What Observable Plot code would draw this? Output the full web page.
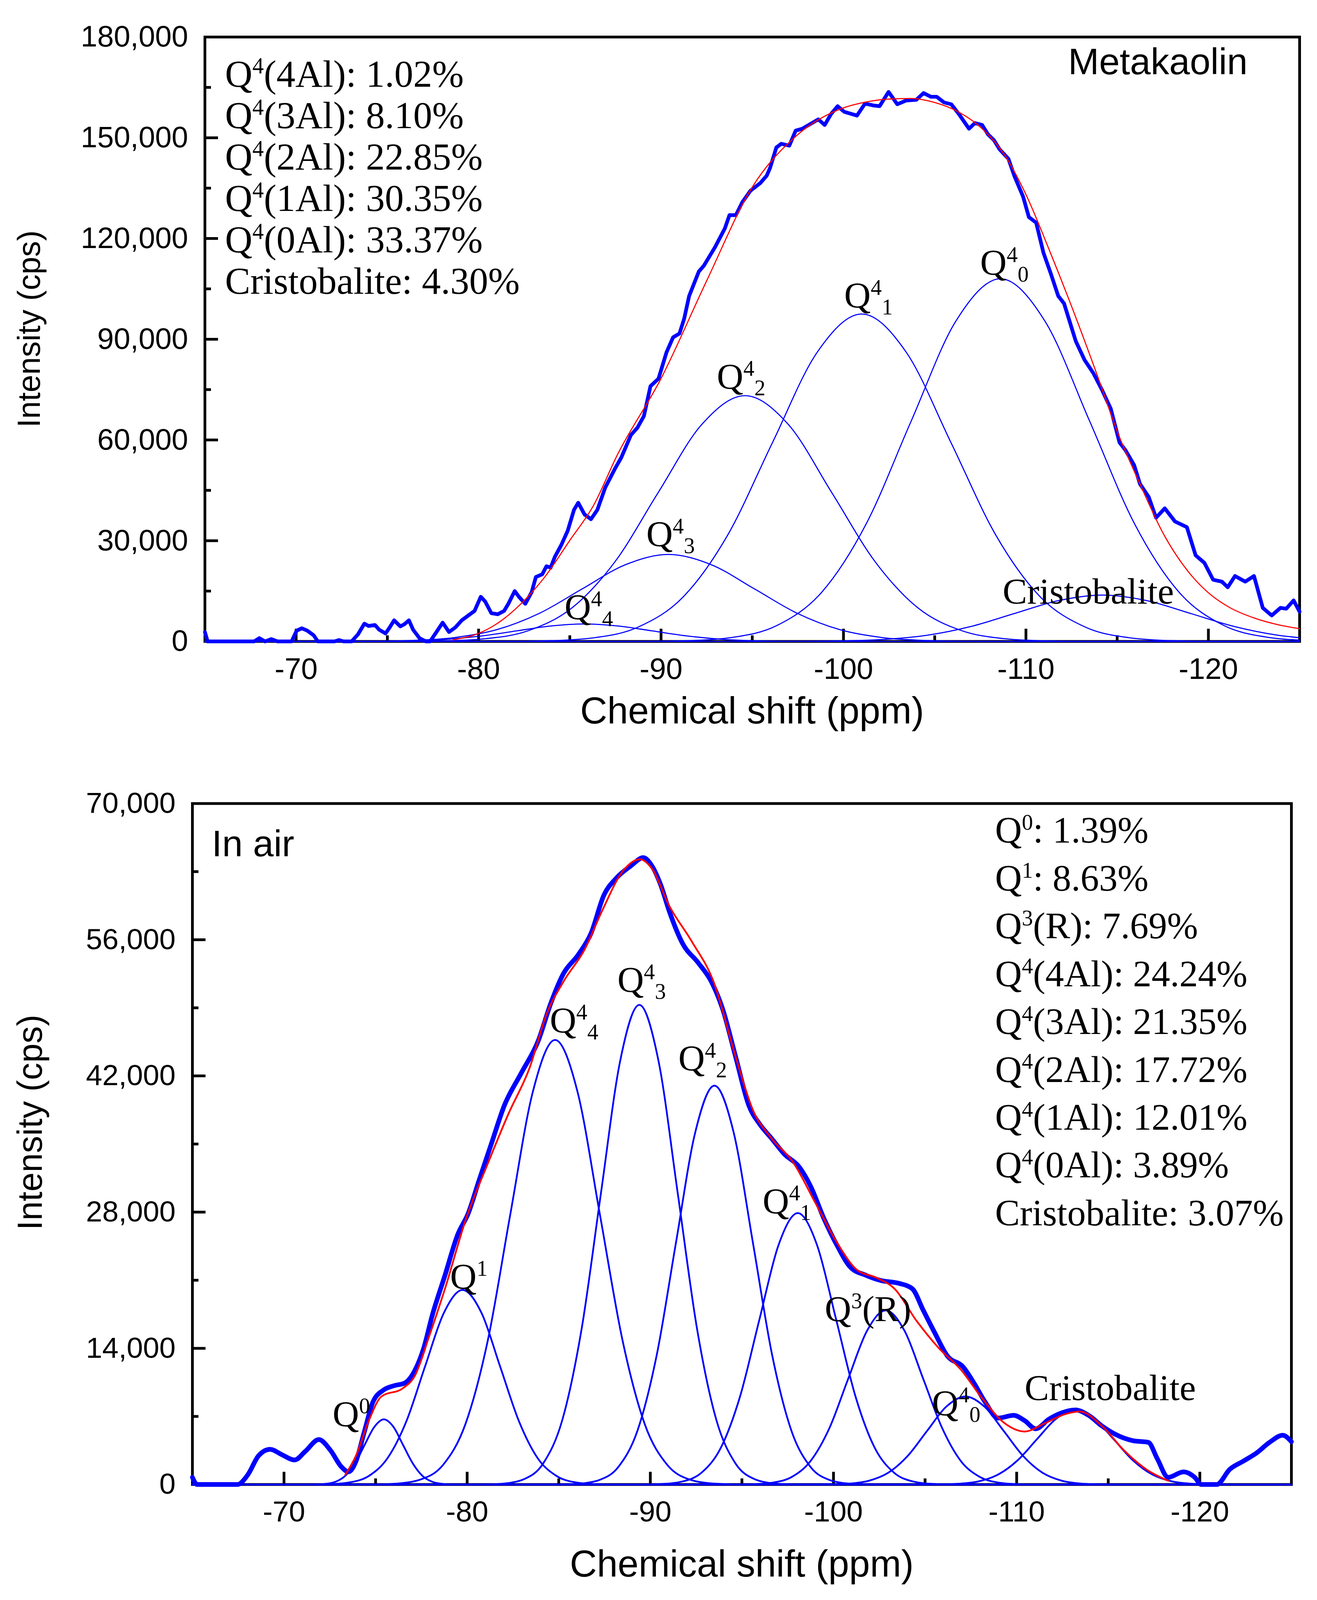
<!DOCTYPE html>
<html>
<head>
<meta charset="utf-8">
<script src="https://cdn.jsdelivr.net/npm/d3@7"></script>
<script src="https://cdn.jsdelivr.net/npm/@observablehq/plot@0.6"></script>
<style>
  html, body { margin: 0; padding: 0; background: #fff; overflow: hidden; }
  #chart svg { display: block; }
</style>
</head>
<body>
<div id="chart"></div>
<script>
// ---- shared axis ticks (ppm) ----
const xMajor = [-70, -80, -90, -100, -110, -120];
const xMinor = [-75, -85, -95, -105, -115];

// ---- Metakaolin panel: [ppm, cps] ----
const mkExp = [[-65,2800],[-65.15,0],[-67.7,0],[-67.98,980],[-68.3,0],[-68.63,700],[-68.98,0],[-69.75,0],
  [-70.03,3220],[-70.31,3920],[-70.61,3220],[-70.96,1820],[-71.19,0],[-72.1,0],[-72.35,420],[-72.6,0],[-73.04,0],
  [-73.39,2100],[-73.74,5300],[-73.97,4600],[-74.32,4900],[-74.55,3500],[-74.9,2380],[-75.13,4200],[-75.37,6300],
  [-75.71,4480],[-75.95,5180],[-76.18,6300],[-76.41,3500],[-76.76,980],[-77.11,0],[-77.34,0],[-77.69,2800],
  [-78.03,5600],[-78.38,2800],[-78.73,4200],[-79.08,6300],[-79.43,7700],[-79.78,9100],[-80.12,13300],[-80.36,11900],
  [-80.7,8400],[-81.05,8100],[-81.4,9100],[-81.63,11200],[-81.98,15000],[-82.21,13300],[-82.56,11200],[-82.91,14700],
  [-83.14,19200],[-83.49,20000],[-83.72,22400],[-83.95,22000],[-84.18,25200],[-84.53,28700],[-84.88,32900],
  [-85.23,39200],[-85.46,41300],[-85.81,37800],[-86.16,36400],[-86.51,39200],[-86.94,45800],[-87.47,51400],
  [-87.82,54750],[-88.35,61470],[-88.71,63700],[-89.06,67100],[-89.42,76000],[-89.86,78260],[-90.3,86100],
  [-90.66,90570],[-91.01,91700],[-91.27,96160],[-91.54,102880],[-92.07,110150],[-92.34,111840],[-92.96,117430],
  [-93.5,123030],[-93.75,126950],[-94.1,126950],[-94.46,130860],[-94.9,134220],[-95.43,136460],[-95.79,138700],
  [-95.97,140940],[-96.32,147100],[-96.59,148210],[-97.03,147650],[-97.38,152130],[-97.74,152690],[-98.27,154370],
  [-98.62,155490],[-98.97,153810],[-99.33,157170],[-99.68,159410],[-100.04,157730],[-100.74,156610],[-101.18,160190],
  [-101.63,159630],[-101.98,159410],[-102.47,163660],[-102.95,159970],[-103.43,161090],[-103.99,161310],
  [-104.39,163320],[-104.79,162200],[-105.11,162200],[-105.51,160520],[-105.91,159970],[-106.31,157170],
  [-106.88,152690],[-107.2,154370],[-107.6,153810],[-107.92,151010],[-108.24,149330],[-108.56,146530],
  [-109.04,143740],[-109.36,138700],[-109.84,132540],[-110.16,126390],[-110.56,124710],[-110.96,115750],
  [-111.36,109600],[-111.77,102880],[-112.09,100640],[-112.73,89450],[-113.21,83850],[-113.69,79940],[-114.17,74900],
  [-114.65,69300],[-115.13,59230],[-115.45,56990],[-115.93,52510],[-116.25,46920],[-116.73,43000],[-117.13,36840],
  [-117.61,39640],[-118.17,35720],[-118.82,34040],[-119.3,25650],[-119.78,23410],[-120.26,18370],[-120.74,17810],
  [-121.06,16130],[-121.46,19490],[-122.02,17810],[-122.5,19490],[-122.98,10000],[-123.47,7740],[-123.95,10000],
  [-124.27,9760],[-124.67,12220],[-125,8860]];
const mkFit = [[-78.6,500],[-80,2400],[-81.2,6000],[-82.3,11100],[-83.6,19000],[-85,30100],[-86.3,40500],
  [-87.6,55500],[-90,78300],[-92.5,107400],[-95,135300],[-97.4,150500],[-100,158900],[-101.1,160500],
  [-102.4,161500],[-103.7,161700],[-105,160500],[-106.3,157700],[-107.6,152700],[-108.9,144300],[-110,133100],
  [-111.3,116300],[-112.6,98400],[-113.9,79400],[-115,62600],[-116.25,46900],[-117.5,32400],[-119,20100],
  [-120,14500],[-121.2,10000],[-122.5,7000],[-123.8,5000],[-125,3800]];
const mkQ44 = [[-65,0],[-71,2],[-72.85,11],[-74.7,57],[-76.55,228],[-78.4,704],[-80.25,1688],[-82.1,3154],[-83.95,4589],
  [-85.8,5200],[-87.65,4589],[-89.5,3154],[-91.35,1688],[-93.2,704],[-95.05,228],[-96.9,57],[-98.75,11],[-100.6,2],[-125,0]];
const mkQ43 = [[-65,0],[-71.6,8],[-73.95,57],[-76.3,287],[-78.65,1137],[-81,3504],[-83.35,8410],[-85.7,15708],[-88.05,22857],
  [-90.4,25900],[-92.75,22857],[-95.1,15708],[-97.45,8410],[-99.8,3504],[-102.15,1137],[-104.5,287],[-106.85,57],[-109.2,8],[-125,0]];
const mkQ42 = [[-65,0],[-75.6,22],[-77.98,161],[-80.35,813],[-82.73,3213],[-85.1,9904],[-87.48,23768],[-89.85,44396],
  [-92.23,64599],[-94.6,73200],[-96.98,64599],[-99.35,44396],[-101.73,23768],[-104.1,9904],[-106.48,3213],[-108.85,813],
  [-111.23,161],[-113.6,22],[-125,0]];
const mkQ41 = [[-65,0],[-81.4,29],[-83.85,215],[-86.3,1082],[-88.75,4280],[-91.2,13192],[-93.65,31658],[-96.1,59134],
  [-98.55,86044],[-101,97500],[-103.45,86044],[-105.9,59134],[-108.35,31658],[-110.8,13192],[-113.25,4280],[-115.7,1082],
  [-118.15,215],[-120.6,29],[-125,0]];
const mkQ40 = [[-65,0],[-89,32],[-91.45,238],[-93.9,1199],[-96.35,4741],[-98.8,14612],[-101.25,35068],[-103.7,65502],
  [-106.15,95310],[-108.6,108000],[-111.05,95310],[-113.5,65502],[-115.95,35068],[-118.4,14612],[-120.85,4741],
  [-123.3,1199],[-125,400]];
const mkCrist = [[-65,0],[-95,4],[-97.4,30],[-99.8,153],[-102.2,606],[-104.6,1867],[-107,4481],[-109.4,8370],
  [-111.8,12179],[-114.2,13800],[-116.6,12179],[-119,8370],[-121.4,4481],[-123.8,1867],[-125,1100]];
const mkYMajor = [0, 30000, 60000, 90000, 120000, 150000, 180000];
const mkYMinor = [15000, 45000, 75000, 105000, 135000, 165000];
// [base, superscript, name, percent]
const mkTable = [["Q","4","(4Al)","1.02"],["Q","4","(3Al)","8.10"],["Q","4","(2Al)","22.85"],
  ["Q","4","(1Al)","30.35"],["Q","4","(0Al)","33.37"],["Cristobalite","","","4.30"]];
// [ppm, cps, base, sup, after]  (label anchor = left end of baseline)
const mkPeakLabels = [[-84.72,6580,"Q","4","4"],[-89.2,28300,"Q","4","3"],[-93.07,75250,"Q","4","2"],
  [-100.05,99380,"Q","4","1"],[-107.5,109140,"Q","4","0"],[-108.73,11190,"Cristobalite","",""]];

// ---- In air panel: [ppm, cps] ----
const airExp = [[-65,740],[-65.26,0],[-67.46,0],[-68.03,1020],[-68.61,2960],[-69.24,3620],[-69.88,3070],[-70.58,2520],
  [-71.16,3400],[-71.9,4620],[-72.54,3510],[-73.12,1850],[-73.52,1300],[-73.93,2400],[-74.39,5450],[-74.86,8500],
  [-75.44,9720],[-76.01,10160],[-76.59,10430],[-77.17,11820],[-77.63,14030],[-78.09,17360],[-78.79,21510],
  [-79.48,25670],[-80.06,27880],[-80.64,31210],[-81.33,35080],[-82.03,38960],[-82.95,42280],[-83.88,45610],
  [-84.57,49490],[-85.26,52530],[-86.07,54470],[-86.77,56690],[-87.46,60560],[-88.15,62340],[-88.95,63610],
  [-89.61,64440],[-90.08,63610],[-90.56,61670],[-91.04,58900],[-91.77,55580],[-92.61,53640],[-93.33,51700],
  [-93.94,48930],[-94.66,43950],[-95.38,38960],[-95.98,37020],[-96.59,35640],[-97.31,33980],[-98.15,32590],
  [-98.75,30660],[-99.48,27330],[-100.2,24560],[-100.92,22350],[-101.77,21510],[-102.61,20960],[-103.57,20680],
  [-104.3,20130],[-104.9,17910],[-105.5,15700],[-106.22,13210],[-107.07,12100],[-107.67,10430],[-108.27,8500],
  [-108.99,6830],[-109.84,7110],[-110.44,6560],[-111.04,5730],[-111.76,6720],[-112.49,7390],[-113.21,7660],
  [-113.93,7110],[-114.66,6010],[-115.38,5170],[-116.34,4510],[-117.19,4340],[-117.67,2680],[-118.27,740],
  [-119.11,1300],[-119.72,740],[-120.08,0],[-120.92,0],[-121.64,1570],[-122.37,2400],[-123.09,3230],[-123.81,4340],
  [-124.53,5060],[-125,4400]];
const airFit = [[-73.35,1020],[-73.93,2960],[-74.63,6560],[-75.32,9050],[-76.48,9880],[-77.17,11270],[-77.86,14870],
  [-78.79,20130],[-79.94,27330],[-81.1,32870],[-82.26,38130],[-83.41,42840],[-84.34,48380],[-85.26,51700],
  [-86.42,55020],[-87.35,58900],[-88.5,63060],[-89.43,64275],[-90.08,63330],[-91.04,59460],[-92.25,55860],
  [-93.45,51700],[-94.66,43950],[-95.62,38410],[-96.59,35640],[-97.79,33140],[-99,28990],[-100.2,24840],
  [-101.28,22070],[-102.37,21240],[-103.33,20130],[-104.54,16810],[-105.74,14040],[-106.95,11820],[-108.15,8780],
  [-109.36,6280],[-110.44,5450],[-111.52,6280],[-112.73,7280],[-113.45,7500],[-114.66,6010],[-115.86,3510],
  [-117.07,1570],[-118.27,390]];
const airQ0 = [[-65,0],[-71.25,2],[-71.78,15],[-72.3,74],[-72.83,294],[-73.35,907],[-73.88,2175],[-74.4,4064],[-74.93,5913],
  [-75.45,6700],[-75.98,5913],[-76.5,4064],[-77.03,2175],[-77.55,907],[-78.08,294],[-78.6,74],[-79.13,15],[-79.65,2],[-125,0]];
const airQ1 = [[-65,0],[-71.55,6],[-72.58,44],[-73.6,222],[-74.63,878],[-75.65,2706],[-76.68,6494],[-77.7,12130],[-78.73,17650],
  [-79.75,20000],[-80.78,17650],[-81.8,12130],[-82.83,6494],[-83.85,2706],[-84.88,878],[-85.9,222],[-86.93,44],[-87.95,6],[-125,0]];
const airQ44 = [[-65,0],[-75,14],[-76.23,101],[-77.45,507],[-78.68,2006],[-79.9,6183],[-81.13,14839],[-82.35,27717],[-83.58,40330],
  [-84.8,45700],[-86.03,40330],[-87.25,27717],[-88.48,14839],[-89.7,6183],[-90.93,2006],[-92.15,507],[-93.38,101],[-94.6,14],[-125,0]];
const airQ43 = [[-65,0],[-81,15],[-82.05,108],[-83.1,547],[-84.15,2164],[-85.2,6670],[-86.25,16008],[-87.3,29900],[-88.35,43507],
  [-89.4,49300],[-90.45,43507],[-91.5,29900],[-92.55,16008],[-93.6,6670],[-94.65,2164],[-95.7,547],[-96.75,108],[-97.8,15],[-125,0]];
const airQ42 = [[-65,0],[-85.1,12],[-86.15,90],[-87.2,455],[-88.25,1800],[-89.3,5547],[-90.35,13313],[-91.4,24867],[-92.45,36183],
  [-93.5,41000],[-94.55,36183],[-95.6,24867],[-96.65,13313],[-97.7,5547],[-98.75,1800],[-99.8,455],[-100.85,90],[-101.9,12],[-125,0]];
const airQ41 = [[-65,0],[-89.65,8],[-90.7,61],[-91.75,310],[-92.8,1225],[-93.85,3775],[-94.9,9059],[-95.95,16921],[-97,24622],
  [-98.05,27900],[-99.1,24622],[-100.15,16921],[-101.2,9059],[-102.25,3775],[-103.3,1225],[-104.35,310],[-105.4,61],[-106.45,8],[-125,0]];
const airQ3R = [[-65,0],[-94.65,5],[-95.68,39],[-96.7,199],[-97.73,786],[-98.75,2422],[-99.78,5812],[-100.8,10856],[-101.83,15797],
  [-102.85,17900],[-103.88,15797],[-104.9,10856],[-105.93,5812],[-106.95,2422],[-107.98,786],[-109,199],[-110.03,39],[-111.05,5],[-125,0]];
const airQ40 = [[-65,0],[-98.8,3],[-99.85,20],[-100.9,100],[-101.95,397],[-103,1224],[-104.05,2939],[-105.1,5489],[-106.15,7987],
  [-107.2,9050],[-108.25,7987],[-109.3,5489],[-110.35,2939],[-111.4,1224],[-112.45,397],[-113.5,100],[-114.55,20],[-115.6,3],[-125,0]];
const airCrist = [[-65,0],[-104.8,2],[-105.85,17],[-106.9,85],[-107.95,336],[-109,1035],[-110.05,2484],[-111.1,4640],[-112.15,6751],
  [-113.2,7650],[-114.25,6751],[-115.3,4640],[-116.35,2484],[-117.4,1035],[-118.45,336],[-119.5,85],[-120.55,17],[-121.6,2],[-125,0]];
const airYMajor = [0, 14000, 28000, 42000, 56000, 70000];
const airYMinor = [7000, 21000, 35000, 49000, 63000];
const airTable = [["Q","0","","1.39"],["Q","1","","8.63"],["Q","3","(R)","7.69"],["Q","4","(4Al)","24.24"],
  ["Q","4","(3Al)","21.35"],["Q","4","(2Al)","17.72"],["Q","4","(1Al)","12.01"],["Q","4","(0Al)","3.89"],
  ["Cristobalite","","","3.07"]];
const airPeakLabels = [[-72.66,5985,"Q","0",""],[-79.08,20110,"Q","1",""],[-84.52,46440,"Q","4","4"],
  [-88.21,50610,"Q","4","3"],[-91.54,42540,"Q","4","2"],[-96.14,27880,"Q","4","1"],[-99.53,16780,"Q","3","(R)"],
  [-105.38,7120,"Q","4","0"],[-110.44,8670,"Cristobalite","",""]];

const SANS = "'Liberation Sans', Arimo, Arial, sans-serif";
const SERIF = "'Liberation Serif', 'Times New Roman', serif";
const BLUE = "#0000ff", RED = "#ff0000";

// the layout was measured on a 4343 px tall page; squeeze it into the real viewport
const VH = window.innerHeight || 4343;
const k = VH / 4343;

// text with a raised index and a following lowered index / plain rest
function richText(g, x, y, size, base, sup, after, afterIsSub) {
  const t = g.append("text").attr("x", x).attr("y", y).attr("text-anchor", "start")
    .attr("font-family", SERIF).attr("font-size", size).attr("fill", "#000");
  t.append("tspan").text(base);
  if (sup) t.append("tspan").attr("dy", -0.37 * size * k).attr("font-size", 0.6 * size).text(sup);
  if (after) {
    if (afterIsSub) t.append("tspan").attr("dy", 0.57 * size * k).attr("font-size", 0.6 * size).text(after);
    else t.append("tspan").attr("dy", sup ? 0.37 * size * k : 0).text(after);
  }
}

function panel(cfg) {
  const W = 3371;
  const mt = cfg.mt * k, mb = cfg.mb * k;
  const innerW = W - cfg.ml - cfg.mr, innerH = cfg.height - mt - mb;
  const comps = cfg.comps.flatMap((c, i) => c.map(([x, y]) => ({x, y, i})));
  const svg = Plot.plot({
    width: W, height: cfg.height,
    marginLeft: cfg.ml, marginRight: cfg.mr, marginTop: mt, marginBottom: mb,
    style: {fontFamily: SANS, fontSize: cfg.tickFont + "px", color: "#000", background: "#fff"},
    x: {domain: [-65, -125], ticks: xMajor, tickSize: 0, tickPadding: 44 * k, tickFormat: d => String(d), label: null},
    y: {domain: [0, cfg.yMajor[cfg.yMajor.length - 1]], ticks: cfg.yMajor, tickSize: 0, tickPadding: 43,
        tickFormat: d3.format(","), label: null},
    marks: [
      Plot.frame({stroke: "#000", strokeWidth: 7}),
      Plot.tickX(xMajor, {x: d => d, insetTop: innerH - 34 * k, stroke: "#000", strokeWidth: 7}),
      Plot.tickX(xMinor, {x: d => d, insetTop: innerH - 16 * k, stroke: "#000", strokeWidth: 7}),
      Plot.tickY(cfg.yMajor.slice(1, -1), {y: d => d, insetRight: innerW - 34, stroke: "#000", strokeWidth: 7}),
      Plot.tickY(cfg.yMinor, {y: d => d, insetRight: innerW - 16, stroke: "#000", strokeWidth: 7}),
      Plot.line(cfg.exp, {x: d => d[0], y: d => d[1], stroke: BLUE, strokeWidth: cfg.expW, curve: cfg.expCurve}),
      Plot.line(comps, {x: "x", y: "y", z: "i", stroke: BLUE, strokeWidth: cfg.compW, curve: "monotone-x"}),
      Plot.line(cfg.fit, {x: d => d[0], y: d => d[1], stroke: RED, strokeWidth: cfg.fitW, curve: "monotone-x"})
    ]
  });
  const sx = svg.scale("x"), sy = svg.scale("y");
  const g = d3.select(svg).append("g");
  // axis titles
  g.append("text").attr("x", cfg.ml + innerW / 2).attr("y", cfg.xTitleY * k).attr("text-anchor", "middle")
    .attr("font-family", SANS).attr("font-size", 96).attr("fill", "#000").text("Chemical shift (ppm)");
  g.append("text").attr("transform", `translate(${cfg.yTitleX},${cfg.yTitleY * k}) rotate(-90)`)
    .attr("text-anchor", "middle").attr("font-family", SANS).attr("font-size", cfg.yTitleSize * k)
    .attr("fill", "#000").text("Intensity (cps)");
  // sample name
  g.append("text").attr("x", cfg.nameX).attr("y", cfg.nameY * k).attr("text-anchor", "start")
    .attr("font-family", SANS).attr("font-size", 95).attr("fill", "#000").text(cfg.name);
  // composition list
  cfg.table.forEach(([base, sup, name, pct], i) => {
    richText(g, cfg.tableX, (cfg.tableY + i * cfg.tableStep) * k, cfg.tableFont, base, sup,
      name + ": " + pct + "%", false);
  });
  // peak labels
  cfg.peaks.forEach(([px, py, base, sup, after]) => {
    const isSub = after && !after.startsWith("(");
    richText(g, sx.apply(px), sy.apply(py), 94, base, sup, after, isSub);
  });
  return svg;
}

const topH = Math.round(2050 * k);
const chart = document.getElementById("chart");
chart.append(panel({
  height: topH, ml: 524, mr: 45, mt: 100, mb: 309, tickFont: 76,
  yMajor: mkYMajor, yMinor: mkYMinor,
  exp: mkExp, expCurve: "linear", expW: 9.5,
  comps: [mkQ44, mkQ43, mkQ42, mkQ41, mkQ40, mkCrist], compW: 2.8,
  fit: mkFit, fitW: 2.8,
  xTitleY: 1964, yTitleX: 102, yTitleY: 893, yTitleSize: 86,
  name: "Metakaolin", nameX: 2734, nameY: 201,
  table: mkTable, tableX: 576, tableY: 235, tableStep: 112.5, tableFont: 97,
  peaks: mkPeakLabels
}));
chart.append(panel({
  height: VH - topH, ml: 492, mr: 66, mt: 131, mb: 314, tickFont: 75,
  yMajor: airYMajor, yMinor: airYMinor,
  exp: airExp, expCurve: "monotone-x", expW: 12,
  comps: [airQ0, airQ1, airQ44, airQ43, airQ42, airQ41, airQ3R, airQ40, airCrist], compW: 4.5,
  fit: airFit, fitW: 4.5,
  xTitleY: 2230, yTitleX: 107, yTitleY: 997, yTitleSize: 94,
  name: "In air", nameX: 542, nameY: 275,
  table: airTable, tableX: 2547, tableY: 238, tableStep: 129.8, tableFont: 95,
  peaks: airPeakLabels
}));
</script>
</body>
</html>
